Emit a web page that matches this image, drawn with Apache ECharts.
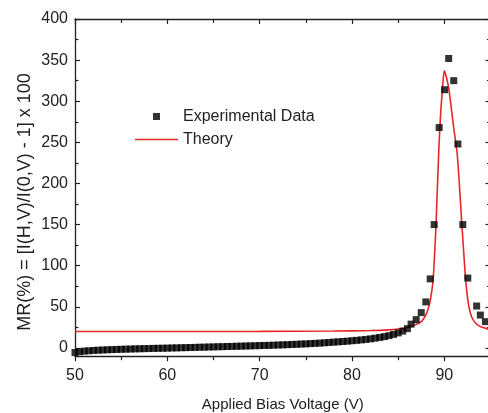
<!DOCTYPE html>
<html>

	<head>
		<meta charset="UTF-8">
		<title>MR vs bias</title>
		<script src="https://cdn.jsdelivr.net/npm/echarts@6.0.0/dist/echarts.min.js"></script>
		<style>
			html, body {
				margin: 0;
				padding: 0;
				background: #fff;
			}
			
			#chart {
				width: 488px;
				height: 413px;
			}
		</style>
	</head>

	<body>
		<div id="chart"></div>

		<script>
			// experimental points (V, MR%)
			var expVolt = [50, 50.5, 51, 51.5, 52, 52.5, 53, 53.5, 54, 54.5, 55, 55.5, 56, 56.5, 57, 57.5, 58, 58.5, 59, 59.5,
				60, 60.5, 61, 61.5, 62, 62.5, 63, 63.5, 64, 64.5, 65, 65.5, 66, 66.5, 67, 67.5, 68, 68.5, 69, 69.5,
				70, 70.5, 71, 71.5, 72, 72.5, 73, 73.5, 74, 74.5, 75, 75.5, 76, 76.5, 77, 77.5, 78, 78.5, 79, 79.5,
				80, 80.5, 81, 81.5, 82, 82.5, 83, 83.5, 84, 84.5, 85, 85.5, 86,
				86.4, 86.95, 87.5, 88.0, 88.47, 88.9, 89.44, 90.03, 90.47, 91.02, 91.47, 92.0, 92.54, 93.5, 93.9, 94.45];
			var expMR = [-5.5, -4.5, -3.8, -3.4, -3.0, -2.7, -2.5, -2.2, -2.0, -1.8, -1.6, -1.4, -1.3, -1.1, -1.0, -0.8, -0.7, -0.5, -0.4, -0.3,
				-0.2, 0, 0.1, 0.3, 0.4, 0.6, 0.7, 0.9, 1.0, 1.2, 1.3, 1.5, 1.6, 1.8, 1.9, 2.1, 2.2, 2.4, 2.6, 2.7,
				2.9, 3.1, 3.2, 3.4, 3.6, 3.8, 4.0, 4.3, 4.5, 4.8, 5.0, 5.3, 5.6, 5.9, 6.3, 6.7, 7.1, 7.5, 7.9, 8.3,
				8.8, 9.3, 9.8, 10.4, 11.1, 11.9, 12.8, 13.8, 15.0, 16.5, 18.3, 20.5, 23.5,
				29, 34.5, 43, 56, 84, 150, 268, 314, 352, 325, 248, 150, 85, 51, 40, 32];

			// theory curve
			var theoryVolt = [50, 60, 70, 78, 82, 84, 85, 86, 86.8, 87.4, 87.9, 88.2, 88.45, 88.65, 88.8, 88.95, 89.1, 89.4, 89.6, 89.8,
				90.0, 90.25, 90.5, 91.0, 91.4, 91.9, 92.3, 92.6, 92.95, 93.4, 93.9, 95];
			var theoryMR = [20, 20, 20.2, 20.6, 21.2, 22, 23, 25, 28, 31, 38, 46, 56, 70, 85, 115, 150, 240, 285, 315,
				337, 328, 314, 269, 235, 150, 85, 54, 38, 30, 26, 22];

			var xTicks = [50, 60, 70, 80, 90];
			var xMinorTicks = [55, 65, 75, 85, 95];
			var yTicks = [0, 50, 100, 150, 200, 250, 300, 350, 400];
			var yMinorTicks = [25, 75, 125, 175, 225, 275, 325, 375];

			var FONT = 'Liberation Sans, Arial, sans-serif';
			var INK = '#222';
			var RED = '#e8262a';

			function pairs(xs, ys) {
				var out = [];
				for(var i = 0; i < xs.length; i++) {
					out.push([xs[i], ys[i]]);
				}
				return out;
			}

			// one axis = line + ticks (+ labels); several are stacked to get the Origin-style frame
			function axis(kind, pos, ticks, len, inside, showLine, labels) {
				var a = {
					type: 'value',
					position: pos,
					min: kind == 'x' ? 50 : -10,
					max: kind == 'x' ? 95 : 400,
					splitLine: { show: false },
					axisLine: { show: showLine, onZero: false, lineStyle: { color: INK, width: 1.3 } },
					axisTick: { show: true, inside: inside, length: len, customValues: ticks, lineStyle: { color: INK, width: 1.2 } },
					axisLabel: { show: false }
				};
				if(labels) {
					a.axisLabel = {
						show: true,
						customValues: ticks,
						margin: kind == 'x' ? 11 : 7,
						color: INK,
						fontSize: 16,
						fontFamily: FONT
					};
				}
				return a;
			}

			var xMain = axis('x', 'bottom', xTicks, 5, false, true, true);
			xMain.name = 'Applied Bias Voltage (V)';
			xMain.nameLocation = 'middle';
			xMain.nameGap = 41;
			xMain.nameTextStyle = { color: INK, fontSize: 15, fontFamily: FONT };

			var chart = echarts.init(document.getElementById('chart'));
			var option = {
				animation: false,
				grid: {
					left: 75,
					top: 19,
					width: 415.5,
					height: 337.2,
					outerBoundsMode: 'none'
				},
				xAxis: [
					xMain,
					axis('x', 'bottom', xMinorTicks, 4, false, false, false),
					axis('x', 'top', xTicks, 5, true, true, false),
					axis('x', 'top', xMinorTicks, 4, true, false, false)
				],
				yAxis: [
					axis('y', 'left', yTicks, 5, true, true, true),
					axis('y', 'left', yMinorTicks, 3.5, true, false, false),
					axis('y', 'right', yTicks, 5, true, true, false),
					axis('y', 'right', yMinorTicks, 3.5, true, false, false)
				],
				legend: {
					orient: 'vertical',
					left: 130,
					top: 100,
					itemWidth: 43,
					itemHeight: 7,
					itemGap: 0,
					textStyle: { color: INK, fontSize: 16, fontFamily: FONT, lineHeight: 23 },
					data: [
						{ name: 'Experimental Data', icon: 'path://M0,0h10v10h-10z' },
						{ name: 'Theory', icon: 'path://M0,0h43v1.6h-43z', itemStyle: { color: RED } }
					]
				},
				graphic: [{
					type: 'text',
					x: 25,
					y: 202,
					rotation: Math.PI / 2,
					style: {
						text: 'MR(%) = [I(H,V)/I(0,V) - 1] x 100',
						fill: INK,
						fontSize: 18,
						fontFamily: FONT,
						align: 'center',
						verticalAlign: 'middle'
					}
				}],
				series: [{
					name: 'Theory',
					type: 'line',
					data: pairs(theoryVolt, theoryMR),
					smooth: 0.3,
					symbol: 'none',
					lineStyle: { color: RED, width: 1.6 },
					itemStyle: { color: RED },
					z: 2
				}, {
					name: 'Experimental Data',
					type: 'scatter',
					data: pairs(expVolt, expMR),
					symbol: 'rect',
					symbolSize: 7,
					itemStyle: { color: '#000' },
					z: 3
				}]
			};
			chart.setOption(option);
		</script>
	</body>

</html>
